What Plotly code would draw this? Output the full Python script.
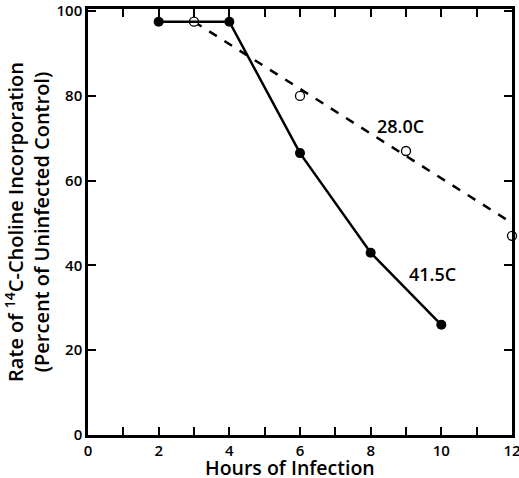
import plotly.graph_objects as go

hours_hi = [2, 4, 6, 8, 10]
rate_hi = [97.5, 97.5, 66.5, 43, 26]
hours_lo = [3, 6, 9, 12]
rate_lo = [97.5, 80, 67, 47]
fit_lo_x = [3, 12]
fit_lo_y = [97.5, 50]
xticks = [0, 2, 4, 6, 8, 10, 12]
yticks = [0, 20, 40, 60, 80, 100]

FONT = "Open Sans"
W = 600
fig = go.Figure()
fig.add_trace(go.Scatter(x=fit_lo_x, y=fit_lo_y, mode="lines",
                         line=dict(color="black", width=2.5, dash="dash"),
                         showlegend=False, cliponaxis=False))
fig.add_trace(go.Scatter(x=hours_lo, y=rate_lo, mode="markers",
                         marker=dict(symbol="circle", size=9, color="white",
                                     line=dict(color="black", width=1.3)),
                         showlegend=False, cliponaxis=False))
fig.add_trace(go.Scatter(x=hours_hi, y=rate_hi, mode="lines+markers",
                         line=dict(color="black", width=2.5),
                         marker=dict(symbol="circle", size=10, color="black"),
                         showlegend=False, cliponaxis=False))

fig.add_annotation(x=8.85, y=73, text="28.0C", showarrow=False,
                   font=dict(family=FONT, size=18, color="black", weight=W))
fig.add_annotation(x=9.75, y=38, text="41.5C", showarrow=False,
                   font=dict(family=FONT, size=18, color="black", weight=W))
fig.add_annotation(x=0.5, xref="paper", y=0, yref="paper", yshift=-48, xshift=-10,
                   yanchor="bottom", text="Hours of Infection", showarrow=False,
                   font=dict(family=FONT, size=19.5, color="black", weight=W))

fig.update_layout(
    width=519, height=478,
    margin=dict(l=88, r=7, t=9, b=43),
    plot_bgcolor="white", paper_bgcolor="white",
    font=dict(family=FONT, color="black"),
)
fig.update_xaxes(
    range=[0, 12], tickvals=xticks, automargin=False, ticklabeloverflow="allow",
    ticks="inside", ticklen=8, tickwidth=1.5, tickcolor="black",
    minor=dict(dtick=1, ticks="inside", ticklen=8, tickwidth=1.5, tickcolor="black", showgrid=False),
    showline=True, linecolor="black", linewidth=2.5, mirror="ticks",
    showgrid=False, zeroline=False,
    tickfont=dict(family=FONT, size=15, color="black", weight=W),
)
fig.update_yaxes(
    range=[0, 100.5], tickvals=yticks, automargin=False, ticklabeloverflow="allow",
    ticks="inside", ticklen=8, tickwidth=1.5, tickcolor="black",
    showline=True, linecolor="black", linewidth=2.5, mirror="ticks",
    showgrid=False, zeroline=False,
    tickfont=dict(family=FONT, size=15, color="black", weight=W),
    title=dict(text="Rate of <sup>14</sup>C-Choline Incorporation<br>(Percent of Uninfected Control)",
               standoff=4, font=dict(family=FONT, size=20, color="black", weight=W)),
)

fig.write_html("out.html")
